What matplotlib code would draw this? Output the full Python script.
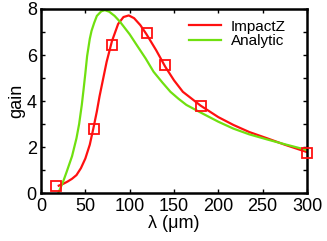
import matplotlib
matplotlib.use("Agg")
import matplotlib.pyplot as plt
from matplotlib.ticker import MultipleLocator

# ImpactZ simulation points (markers)
imp_x = [17, 60, 80, 120, 140, 180, 300]
imp_y = [0.3, 2.8, 6.45, 6.95, 5.55, 3.8, 1.75]

# ImpactZ curve
red_x = [20, 25, 30, 35, 40, 45, 50, 55, 59, 63, 66, 70, 74, 80, 87, 93, 99,
         105, 112, 119, 130, 140, 150, 160, 180, 200, 217, 235, 255, 275, 300]
red_y = [0.32, 0.4, 0.5, 0.62, 0.78, 1.08, 1.5, 2.1, 2.8, 3.55, 4.2, 4.95,
         5.7, 6.6, 7.35, 7.65, 7.72, 7.6, 7.3, 6.9, 6.2, 5.5, 4.9, 4.4, 3.8,
         3.3, 2.96, 2.65, 2.38, 2.1, 1.78]

# analytic curve
green_x = [19.5, 25, 29, 35, 40, 43, 46, 48, 50, 52, 55, 57, 60, 63, 68, 72,
           77, 83, 89, 100, 108, 118, 127, 137, 146, 155, 164, 180, 200, 217,
           235, 255, 275, 300]
green_y = [0, 0.5, 0.93, 1.6, 2.38, 3.0, 3.83, 4.5, 5.2, 5.95, 6.7, 7.05, 7.4,
           7.7, 7.9, 7.95, 7.88, 7.7, 7.45, 6.9, 6.43, 5.85, 5.27, 4.8, 4.4,
           4.1, 3.83, 3.5, 3.1, 2.8, 2.55, 2.33, 2.12, 1.87]

plt.rcParams['font.family'] = ['Liberation Sans', 'DejaVu Sans']

fig = plt.figure(figsize=(3.27, 2.41), dpi=100)
ax = fig.add_axes([0.1254, 0.199, 0.8134, 0.7637])

ax.plot(red_x, red_y, color='#ff1010', lw=1.6, label='ImpactZ')
ax.plot(green_x, green_y, color='#70e010', lw=1.6, label='Analytic')
ax.plot(imp_x, imp_y, ls='none', marker='s', ms=6.5, mfc='none',
        mec='#ff1010', mew=1.3, clip_on=False, zorder=5)

ax.set_xlim(0, 300)
ax.set_ylim(0, 8)
ax.xaxis.set_major_locator(MultipleLocator(50))
ax.yaxis.set_major_locator(MultipleLocator(2))
ax.yaxis.set_minor_locator(MultipleLocator(1))
ax.tick_params(which='both', direction='in', top=True, right=True,
               labelsize=13, width=1)
ax.tick_params(axis='x', pad=3.5)
ax.tick_params(axis='y', pad=3)
ax.tick_params(which='major', length=3)
ax.tick_params(which='minor', length=3)
for s in ax.spines.values():
    s.set_linewidth(1.8)

ax.set_xlabel('λ (μm)', fontsize=13, labelpad=0)
ax.set_ylabel('gain', fontsize=13, labelpad=1)

ax.legend(loc='upper right', frameon=False, fontsize=11, handlelength=2.1,
          handletextpad=0.6, labelspacing=0.05, borderaxespad=0.3,
          bbox_to_anchor=(0.96, 1.0))

fig.savefig('out.png', dpi=100)
